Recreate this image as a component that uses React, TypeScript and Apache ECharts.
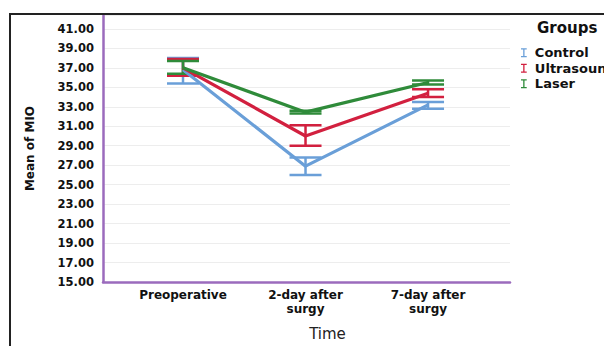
import React, { useEffect, useRef } from "react";
import * as echarts from "echarts";

const categories = ["Preoperative", "2-day after\nsurgy", "7-day after\nsurgy"];
const groups = ["Control", "Ultrasound", "Laser"];
const colors = ["#6a9fd8", "#d2203f", "#2f8b3a"];
const means = [
  [36.8, 26.9, 33.2],
  [37.0, 30.0, 34.4],
  [37.0, 32.45, 35.5],
];
const lows = [
  [35.4, 26.0, 32.8],
  [36.2, 29.0, 34.0],
  [36.4, 32.3, 35.3],
];
const highs = [
  [38.0, 27.8, 33.5],
  [37.9, 31.1, 34.8],
  [37.7, 32.6, 35.7],
];
const yMin = 15;
const yMax = 42.43;
const yInterval = 2;

const FONT = '"DejaVu Sans", Arial, sans-serif';
const ICON = "path://M0,0H7V1.6H4.3V9.4H7V11H0V9.4H2.7V1.6H0Z";

export default function App() {
  const ref = useRef<HTMLDivElement>(null);
  useEffect(() => {
    document.body.style.margin = "0";
    const chart = echarts.init(ref.current!, null, { renderer: "svg" });
    const series: any[] = [];
    groups.forEach((g, gi) => {
      series.push({
        name: g,
        type: "custom",
        data: categories.map((_, i) => [i, lows[gi][i], highs[gi][i]]),
        z: 2 + gi,
        renderItem: (params: any, api: any) => {
          const x = api.value(0);
          const lo = api.coord([x, api.value(1)]);
          const hi = api.coord([x, api.value(2)]);
          const hw = 16;
          const style = { stroke: colors[gi], lineWidth: 2.5, fill: "none" };
          return {
            type: "group",
            children: [
              { type: "line", shape: { x1: lo[0], y1: lo[1], x2: hi[0], y2: hi[1] }, style },
              { type: "line", shape: { x1: lo[0] - hw, y1: lo[1], x2: lo[0] + hw, y2: lo[1] }, style },
              { type: "line", shape: { x1: hi[0] - hw, y1: hi[1], x2: hi[0] + hw, y2: hi[1] }, style },
            ],
          };
        },
      });
    });
    groups.forEach((g, gi) => {
      series.push({
        name: g,
        type: "line",
        data: categories.map((_, i) => [i, means[gi][i]]),
        showSymbol: false,
        symbol: "none",
        z: 5 + gi,
        lineStyle: { color: colors[gi], width: 3.2 },
        itemStyle: { color: colors[gi] },
      });
    });
    chart.setOption({
      animation: false,
      color: colors,
      title: {
        text: "Groups",
        left: 532,
        top: 15,
        textStyle: { fontFamily: FONT, fontWeight: "bold", fontSize: 15, color: "#111" },
      },
      legend: {
        orient: "vertical",
        left: 516,
        top: 40,
        itemWidth: 6,
        itemHeight: 9,
        itemGap: 0,
        data: groups.map((g) => ({ name: g, icon: ICON })),
        textStyle: {
          fontFamily: FONT,
          fontWeight: "bold",
          fontSize: 13,
          color: "#111",
          lineHeight: 15.5,
          padding: [0, 0, 0, 3],
        },
      },
      grid: { left: 103, right: 94, top: 15, bottom: 63 },
      xAxis: {
        type: "value",
        min: -0.653,
        max: 2.669,
        name: "Time",
        nameLocation: "middle",
        nameGap: 44,
        nameTextStyle: { fontFamily: FONT, fontSize: 15, color: "#222", padding: [0, 0, 0, 42] },
        axisLine: { show: true, onZero: false, lineStyle: { color: "#9b6bbd", width: 2.5 } },
        axisTick: { show: false },
        splitLine: { show: false },
        axisLabel: {
          customValues: [0, 1, 2],
          formatter: (v: number) => categories[Math.round(v)] ?? "",
          fontFamily: FONT,
          fontWeight: "bold",
          fontSize: 12,
          lineHeight: 14,
          color: "#111",
          margin: 6,
        },
      },
      yAxis: {
        type: "value",
        min: yMin,
        max: yMax,
        interval: yInterval,
        name: "Mean of MIO",
        nameLocation: "middle",
        nameRotate: 90,
        nameGap: 67,
        nameTextStyle: { fontFamily: FONT, fontWeight: "bold", fontSize: 12, color: "#111" },
        axisLine: { show: true, onZero: false, lineStyle: { color: "#9b6bbd", width: 2.5 } },
        axisTick: { show: false },
        splitLine: { show: true, lineStyle: { color: "#ededed", width: 1 } },
        axisLabel: {
          showMaxLabel: false,
          formatter: (v: number) => v.toFixed(2),
          fontFamily: FONT,
          fontWeight: "bold",
          fontSize: 11.5,
          color: "#111",
          margin: 9,
        },
      },
      graphic: [
        {
          type: "rect",
          z: 100,
          shape: { x: 10, y: 14, width: 800, height: 500 },
          style: { stroke: "#222", lineWidth: 2, fill: "none" },
        },
      ],
      series,
    });
    return () => chart.dispose();
  }, []);
  return <div ref={ref} style={{ position: "fixed", left: 0, top: 0, width: 604, height: 346, background: "#fff" }} />;
}
